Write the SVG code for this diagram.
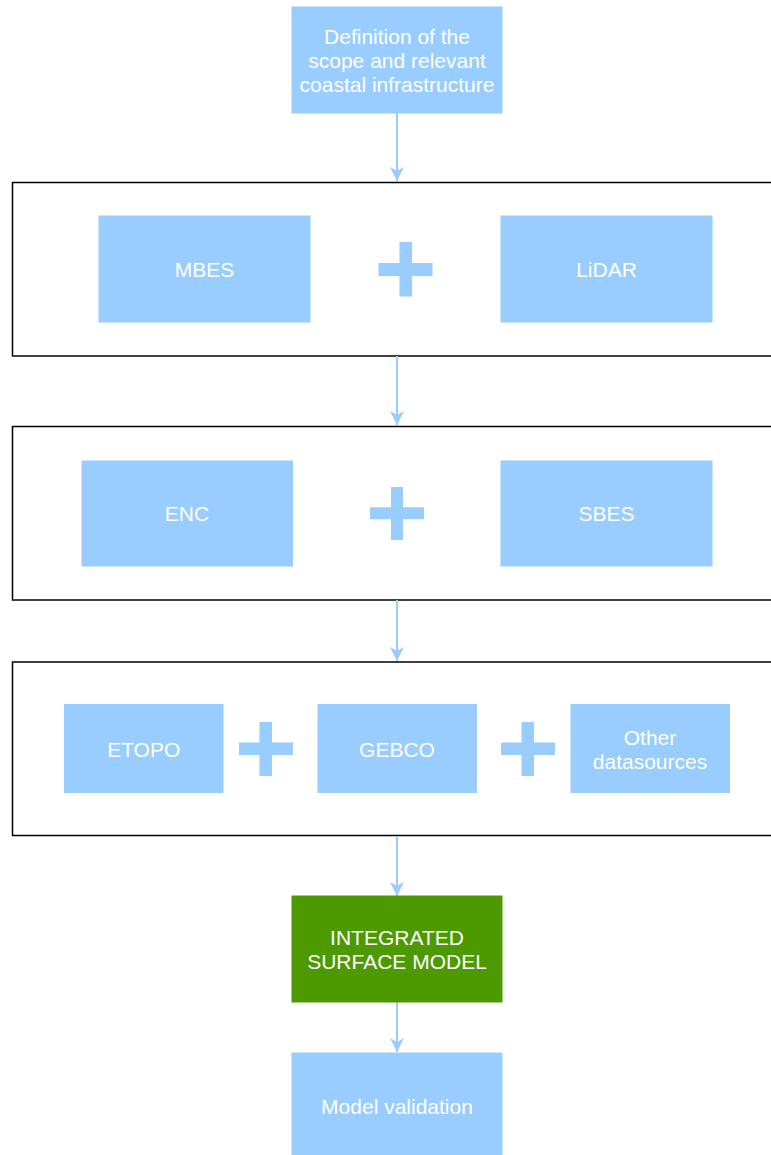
<svg xmlns="http://www.w3.org/2000/svg" width="771" height="1155" viewBox="0 0 771 1155">
  <style>
    .box { fill: #99CCFF; stroke: #99CCFF; stroke-width: 1; }
    .green { fill: #4D9900; stroke: #4D9900; stroke-width: 1; }
    .frame { fill: #FFFFFF; stroke: #000000; stroke-width: 1.5; }
    .plus { fill: #99CCFF; }
    .lbl { font-family: "Liberation Sans", Arial, sans-serif; font-size: 21px; fill: #FFFFFF; text-anchor: middle; }
    .conn { stroke: #99CCFF; stroke-width: 2; fill: none; marker-end: url(#arrow); }
  </style>
  <defs>
    <marker id="arrow" markerWidth="16" markerHeight="16" viewBox="0 0 16 16" refX="15" refY="8" orient="auto" markerUnits="userSpaceOnUse">
      <path d="M1,1 L15,8 L1,15 L5,8 Z" fill="#99CCFF"/>
    </marker>
  </defs>
  <rect width="771" height="1155" fill="#FFFFFF"/>

  <g id="group-1">
    <rect class="frame" x="12.5" y="182.5" width="770" height="173.5"/>
  </g>
  <g id="group-2">
    <rect class="frame" x="12.5" y="426.5" width="770" height="173.5"/>
  </g>
  <g id="group-3">
    <rect class="frame" x="12.5" y="662" width="770" height="173.5"/>
  </g>

  <g id="connectors">
    <line class="conn" x1="397" y1="113" x2="397" y2="181"/>
    <line class="conn" x1="397" y1="356" x2="397" y2="425"/>
    <line class="conn" x1="397" y1="600" x2="397" y2="661"/>
    <line class="conn" x1="397" y1="836" x2="397" y2="896"/>
    <line class="conn" x1="397" y1="1002" x2="397" y2="1052"/>
  </g>

  <g id="scope">
    <rect class="box" x="292" y="7" width="210" height="106"/>
    <text class="lbl" x="397" y="43.5">Definition of the</text>
    <text class="lbl" x="397" y="67.5">scope and relevant</text>
    <text class="lbl" x="397" y="91.5">coastal infrastructure</text>
  </g>

  <g id="mbes">
    <rect class="box" x="99" y="216" width="211" height="106"/>
    <text class="lbl" x="204.5" y="277">MBES</text>
  </g>
  <g id="plus-1">
    <rect class="plus" x="399.5" y="242" width="12.5" height="54.5"/>
    <rect class="plus" x="378.5" y="263" width="54" height="13"/>
  </g>
  <g id="lidar">
    <rect class="box" x="501" y="216" width="211" height="106"/>
    <text class="lbl" x="606.5" y="277">LiDAR</text>
  </g>

  <g id="enc">
    <rect class="box" x="82" y="461" width="210.5" height="105"/>
    <text class="lbl" x="187" y="521">ENC</text>
  </g>
  <g id="plus-2">
    <rect class="plus" x="391" y="487" width="12" height="53"/>
    <rect class="plus" x="370" y="507.3" width="54" height="12"/>
  </g>
  <g id="sbes">
    <rect class="box" x="501" y="461" width="211" height="105"/>
    <text class="lbl" x="606.5" y="521">SBES</text>
  </g>

  <g id="etopo">
    <rect class="box" x="64.5" y="704.5" width="158.5" height="88"/>
    <text class="lbl" x="143.7" y="756.5">ETOPO</text>
  </g>
  <g id="plus-3">
    <rect class="plus" x="259.5" y="722" width="12.5" height="54"/>
    <rect class="plus" x="239" y="742.5" width="54" height="12.5"/>
  </g>
  <g id="gebco">
    <rect class="box" x="318" y="704.5" width="158.5" height="88"/>
    <text class="lbl" x="397" y="756.5">GEBCO</text>
  </g>
  <g id="plus-4">
    <rect class="plus" x="521.5" y="722" width="12.5" height="54"/>
    <rect class="plus" x="501" y="742.5" width="54" height="12.5"/>
  </g>
  <g id="other">
    <rect class="box" x="571" y="704.5" width="158.5" height="88"/>
    <text class="lbl" x="650" y="745">Other</text>
    <text class="lbl" x="650" y="768.5">datasources</text>
  </g>

  <g id="integrated">
    <rect class="green" x="292" y="896" width="210" height="106"/>
    <text class="lbl" x="397" y="945">INTEGRATED</text>
    <text class="lbl" x="397" y="968.5">SURFACE MODEL</text>
  </g>

  <g id="validation">
    <rect class="box" x="292" y="1053" width="210" height="107"/>
    <text class="lbl" x="397" y="1113.5">Model validation</text>
  </g>
</svg>
